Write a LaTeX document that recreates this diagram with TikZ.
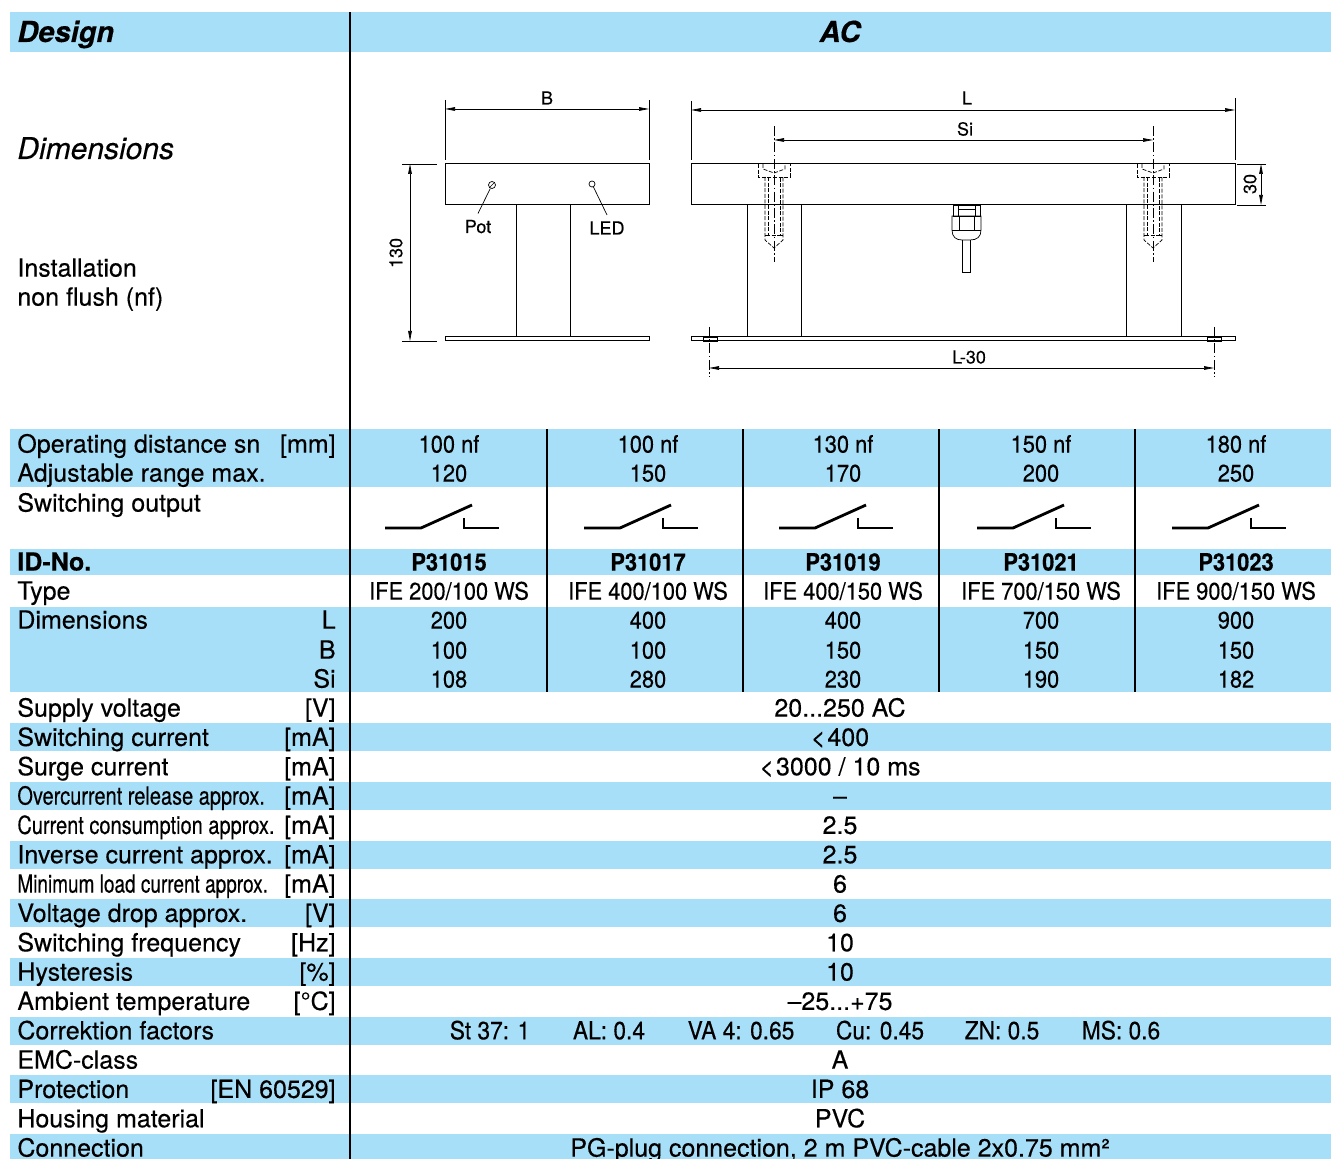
\documentclass[tikz,border=0pt]{standalone}
\usepackage{fontspec}
\setmainfont{TeX Gyre Heros}[FakeBold=0.3]
\newfontfamily\narrowfont[FakeStretch=0.80,FakeBold=0.3]{TeX Gyre Heros}
\newfontfamily\narrowerfont[FakeStretch=0.76,FakeBold=0.3]{TeX Gyre Heros}
\newfontfamily\valfont[FakeStretch=0.91,FakeBold=0.3]{TeX Gyre Heros}
\usetikzlibrary{arrows.meta}
\definecolor{rowblue}{RGB}{168,223,248}

\begin{document}
\begin{tikzpicture}[x=0.5pt,y=-0.5pt,
    band/.style = {fill=rowblue},
    rowtext/.style = {inner sep=0pt,
                      font=\fontsize{12.5}{14}\selectfont},
    lbl/.style = {rowtext, anchor=base west},
    unitlbl/.style = {rowtext, anchor=base east},
    spanval/.style = {rowtext, anchor=base},
    val/.style = {inner sep=0pt, anchor=base,
                  font=\fontsize{12}{14}\selectfont\valfont},
    headtext/.style = {inner sep=0pt, anchor=base,
                       font=\fontsize{14.5}{17}\selectfont\bfseries\itshape},
    part/.style = {line width=0.5pt},
    thinline/.style = {line width=0.35pt},
    hidden/.style = {line width=0.35pt, dash pattern=on 2pt off 0.8pt},
    axisline/.style = {line width=0.35pt, dash pattern=on 5pt off 1.2pt on 0.8pt off 1.2pt},
    dimline/.style = {line width=0.35pt,
                      {Triangle[length=5pt,width=1.8pt]}-{Triangle[length=5pt,width=1.8pt]}},
    dimtext/.style = {inner sep=0pt, font=\fontsize{9}{10}\selectfont},
    switchline/.style = {line width=1.4pt},
    divider/.style = {line width=0.6pt}]
  \useasboundingbox (0,0) rectangle (1331,1159);

  % blue bands
  \fill[band] (10,12) rectangle (1331,52);
  \fill[band] (10,429) rectangle (1331,487);
  \fill[band] (10,549) rectangle (1331,575);
  \fill[band] (10,607) rectangle (1331,692);
  \foreach \k in {1,3,...,13}
    \fill[band] (10,{708+29.333*\k-14}) rectangle (1331,{708+29.333*\k+14});
  \fill[band] (10,1134) rectangle (1331,1159);

  % dividers
  \draw[divider] (350,12) -- (350,1159);
  \foreach \x in {547,743,939,1135}
    \draw[divider] (\x,429) -- (\x,692);

  % headings
  \node[headtext, anchor=base west] (design) at (17,42) {Design};
  \node[headtext] (ac) at (840,42) {AC};
  \node[inner sep=0pt, anchor=base west,
        font=\fontsize{15}{17}\selectfont\itshape] (dimhead) at (17,159) {Dimensions};
  \node[lbl] (install) at (17,276.6) {Installation};
  \node[lbl] (nonflush) at (17,305.6) {non flush (nf)};

  % end view
  \draw[part] (445,164) rectangle (649,205);
  \draw[part] (516,205) rectangle (570,337);
  \draw[part] (445,337) rectangle (649,341);
  \node[draw, thinline, circle, inner sep=0pt, minimum size=3.5pt] (potmark) at (492,185) {};
  \draw[thinline] (potmark.south west) -- (potmark.north east);
  \node[draw, thinline, circle, inner sep=0pt, minimum size=3pt] (ledmark) at (592,184) {};
  \node[dimtext, anchor=base] (pot) at (478,233) {Pot};
  \node[dimtext, anchor=base] (led) at (607,234.5) {LED};
  \draw[thinline] (potmark) -- ([yshift=3pt]pot.north);
  \draw[thinline] (ledmark) -- ([yshift=3pt]led.north);
  \draw[thinline] (445,100) -- (445,160) (649,100) -- (649,160);
  \draw[dimline] (445,109) -- (649,109);
  \node[dimtext, anchor=base] (bdim) at (547,104.5) {B};
  \draw[thinline] (402,164) -- (437,164) (402,341) -- (437,341);
  \draw[dimline] (410,164) -- (410,341);
  \node[dimtext, rotate=90] (hdim) at (396,253) {130};

  % side view
  \draw[part] (691,164) rectangle (1235,205);
  \draw[part] (747,205) rectangle (801,337);
  \draw[part] (1126,205) rectangle (1181,337);
  \draw[part] (691,337) rectangle (1235,341);
  \draw[thinline] (703,337) rectangle (717,341) (1207,337) rectangle (1221,341);
  \draw[axisline] (709,327) -- (709,377);
  \draw[axisline] (1214,327) -- (1214,377);
  \foreach \bx in {774,1153} {
    \draw[hidden] (\bx-16,164) -- (\bx-16,177) -- (\bx+16,177) -- (\bx+16,164);
    \draw[hidden] (\bx-11,164) -- (\bx-11,169) -- (\bx,173) -- (\bx+11,169) -- (\bx+11,164);
    \draw[hidden] (\bx-9,177) -- (\bx-9,240) -- (\bx,248) -- (\bx+9,240) -- (\bx+9,177);
    \draw[hidden] (\bx-6,177) -- (\bx-6,235) -- (\bx+6,235) -- (\bx+6,177);
    \draw[hidden] (\bx-9,235) -- (\bx-6,235) (\bx+6,235) -- (\bx+9,235);
    \draw[axisline] (\bx,126) -- (\bx,262);
  }
  % cable gland
  \draw[thinline] (953,205) rectangle (980,216);
  \draw[thinline] (958,205) -- (958,216) (975,205) -- (975,216) (958,209) -- (975,209);
  \draw[thinline] (952,216) -- (952,230) .. controls (952,237) and (956,240) .. (962,240)
    -- (970,240) .. controls (977,240) and (981,237) .. (981,230) -- (981,216) -- cycle;
  \draw[thinline] (952,230) -- (981,230) (959,216) -- (959,230) (974,216) -- (974,230);
  \draw[thinline] (962,240) -- (962,272) -- (970,272) -- (970,240);
  % dimensions
  \draw[thinline] (691,101) -- (691,160) (1235,98) -- (1235,160);
  \draw[dimline] (691,110) -- (1235,110);
  \node[dimtext, anchor=base] (ldim) at (967,104.5) {L};
  \draw[dimline] (774,140) -- (1153,140);
  \node[dimtext, anchor=base] (sidim) at (965,135.5) {Si};
  \draw[dimline] (709,368) -- (1214,368);
  \node[dimtext, anchor=base] (l30dim) at (969,363.5) {L-30};
  \draw[thinline] (1237,164) -- (1266,164) (1237,205) -- (1266,205);
  \draw[dimline] (1261,164) -- (1261,205);
  \node[dimtext, rotate=90] (tdim) at (1250,184) {30};

  % upper table
  \node[lbl] (opdist) at (17,452.6) {Operating distance sn};
  \node[unitlbl] (opunit) at (336,452.6) {[mm]};
  \node[lbl] (adjrange) at (17,481.6) {Adjustable range max.};
  \node[lbl] (swout) at (17,511.6) {Switching output};
  \node[lbl, font=\fontsize{12.5}{14}\selectfont\bfseries] (idno) at (17,570.6) {ID-No.};
  \node[lbl] (type) at (17,599.6) {Type};
  \node[lbl] (dimrow) at (17,628.6) {Dimensions};
  \node[unitlbl] (dimL) at (336,628.6) {L};
  \node[unitlbl] (dimB) at (336,658.6) {B};
  \node[unitlbl] (dimSi) at (336,687.6) {Si};
  \foreach \cx/\sn/\rng/\idno/\typ/\colL/\colB/\colSi [count=\c] in
    {449/100 nf/120/P31015/{IFE 200/100 WS}/200/100/108,
     648/100 nf/150/P31017/{IFE 400/100 WS}/400/100/280,
     843/130 nf/170/P31019/{IFE 400/150 WS}/400/150/230,
     1041/150 nf/200/P31021/{IFE 700/150 WS}/700/150/190,
     1236/180 nf/250/P31023/{IFE 900/150 WS}/900/150/182} {
    \node[val] (sn\c) at (\cx,452.6) {\sn};
    \node[val] (range\c) at (\cx,481.6) {\rng};
    \node[val, font=\fontsize{12}{14}\selectfont\valfont\bfseries] (id\c) at (\cx,570.6) {\idno};
    \node[val] (type\c) at (\cx,599.6) {\typ};
    \node[val] (L\c) at (\cx,628.6) {\colL};
    \node[val] (B\c) at (\cx,658.6) {\colB};
    \node[val] (Si\c) at (\cx,687.6) {\colSi};
    \draw[switchline] (\cx-64,528) -- (\cx-28,528) -- (\cx+23,505);
    \draw[switchline] (\cx+15,518) -- (\cx+15,528) -- (\cx+50,528);
  }

  % lower table
  \foreach \lab/\unit/\val [count=\k from 0] in
    {{Supply voltage}/{[V]}/{20...250 AC},
     {Switching current}/{[mA]}/{<\kern1pt400},
     {Surge current}/{[mA]}/{<\kern1pt3000 / 10 ms},
     {\narrowfont Overcurrent release approx.}/{[mA]}/{–},
     {\narrowfont Current consumption approx.}/{[mA]}/{2.5},
     {Inverse current approx.}/{[mA]}/{2.5},
     {\narrowerfont Minimum load current approx.}/{[mA]}/{6},
     {Voltage drop approx.}/{[V]}/{6},
     {Switching frequency}/{[Hz]}/{10},
     {Hysteresis}/{[\%]}/{10},
     {Ambient temperature}/{[°C]}/{–25...+75},
     {Correktion factors}/{}/{},
     {EMC-class}/{}/{A},
     {Protection}/{[EN 60529]}/{IP 68},
     {Housing material}/{}/{PVC},
     {Connection}/{}/{PG-plug connection, 2 m PVC-cable 2x0.75 mm²}} {
    \pgfmathsetmacro\yy{708+29.333*\k+8.6}
    \node[lbl] (label\k) at (17,\yy) {\lab};
    \if\relax\detokenize\expandafter{\unit}\relax\else
      \node[unitlbl] (unit\k) at (336,\yy) {\unit};
    \fi
    \if\relax\detokenize\expandafter{\val}\relax\else
      \node[spanval] (value\k) at (840,\yy) {\val};
    \fi
  }
  \foreach \fx/\ftext [count=\f] in
    {490/St 37: 1, 609/AL: 0.4, 741/VA 4: 0.65, 880/Cu: 0.45, 1002/ZN: 0.5, 1121/MS: 0.6}
    \node[val, font=\fontsize{12.5}{14}\selectfont\valfont] (factor\f) at (\fx,1039.3) {\ftext};
\end{tikzpicture}
\end{document}
